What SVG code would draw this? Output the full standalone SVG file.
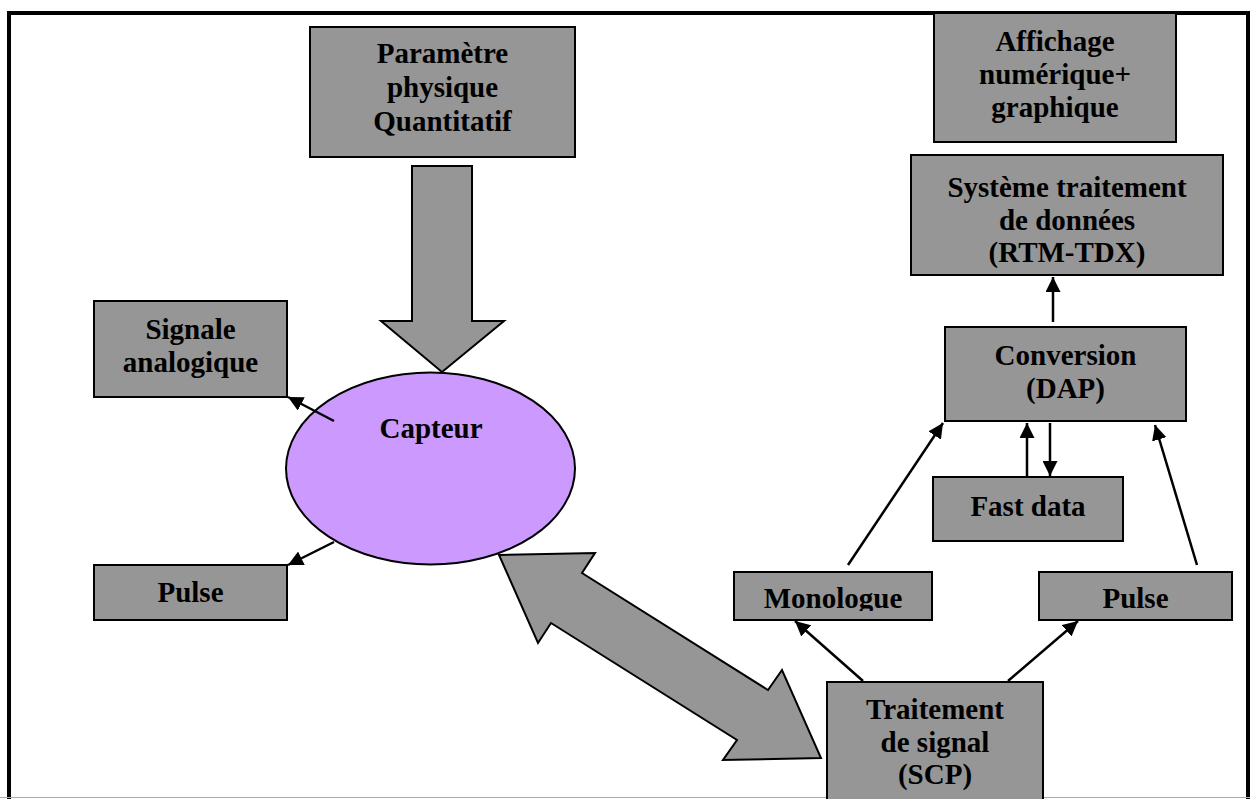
<svg xmlns="http://www.w3.org/2000/svg" width="1250" height="799" viewBox="0 0 1250 799">
<style>
.box{fill:#969696;stroke:#000;stroke-width:2}
.t{font-family:"Liberation Serif","Times New Roman",serif;font-weight:bold;font-size:29px;fill:#000;text-anchor:middle}
.c{stroke:#000;stroke-width:2.5;fill:none;marker-end:url(#ah)}
.big{fill:#969696;stroke:#000;stroke-width:2;stroke-linejoin:miter}
</style>
<defs>
<marker id="ah" viewBox="0 0 10 10" refX="10" refY="5" markerWidth="6" markerHeight="6" markerUnits="strokeWidth" orient="auto">
<path d="M0,0 L10,5 L0,10 z" fill="#000"/>
</marker>
<clipPath id="clipMono"><rect x="734" y="572" width="198" height="39"/></clipPath>
<clipPath id="clipPulseR"><rect x="1039" y="572" width="193" height="39"/></clipPath>
</defs>
<rect width="1250" height="799" fill="#fff"/>
<g id="frame">
<path d="M9,799 V13 H1248 V799" fill="none" stroke="#000" stroke-width="4"/>
<line x1="0" y1="797.5" x2="1250" y2="797.5" stroke="#aaa" stroke-width="1"/>
</g>
<g id="node-parametre">
<rect class="box" x="310" y="27" width="265" height="130"/>
<text class="t" x="442.5" y="63">Paramètre</text>
<text class="t" x="442.5" y="97">physique</text>
<text class="t" x="442.5" y="131">Quantitatif</text>
</g>
<g id="node-affichage">
<rect class="box" x="934" y="13" width="242" height="129"/>
<text class="t" x="1055" y="51">Affichage</text>
<text class="t" x="1055" y="84">numérique+</text>
<text class="t" x="1055" y="117">graphique</text>
</g>
<g id="node-systeme">
<rect class="box" x="911" y="155" width="312" height="120"/>
<text class="t" x="1067" y="197">Système traitement</text>
<text class="t" x="1067" y="230">de données</text>
<text class="t" x="1067" y="262">(RTM-TDX)</text>
</g>
<g id="node-signale">
<rect class="box" x="94" y="301" width="193" height="96"/>
<text class="t" x="190.5" y="339">Signale</text>
<text class="t" x="190.5" y="372">analogique</text>
</g>
<g id="node-pulse-left">
<rect class="box" x="94" y="565" width="193" height="55"/>
<text class="t" x="190.5" y="602">Pulse</text>
</g>
<g id="node-capteur">
<ellipse cx="430.5" cy="468.5" rx="144.5" ry="96" fill="#cc99ff" stroke="#000" stroke-width="2"/>
<text class="t" x="431" y="438">Capteur</text>
</g>
<g id="node-conversion">
<rect class="box" x="945" y="327" width="241" height="94"/>
<text class="t" x="1065.5" y="365">Conversion</text>
<text class="t" x="1065.5" y="398">(DAP)</text>
</g>
<g id="node-fastdata">
<rect class="box" x="933" y="477" width="190" height="64"/>
<text class="t" x="1028" y="516">Fast data</text>
</g>
<g id="node-monologue">
<rect class="box" x="734" y="572" width="198" height="48"/>
<text class="t" x="833" y="608" clip-path="url(#clipMono)">Monologue</text>
</g>
<g id="node-pulse-right">
<rect class="box" x="1039" y="572" width="193" height="48"/>
<text class="t" x="1135.5" y="608" clip-path="url(#clipPulseR)">Pulse</text>
</g>
<g id="node-traitement">
<rect class="box" x="827" y="682" width="216" height="120"/>
<text class="t" x="935" y="719">Traitement</text>
<text class="t" x="935" y="752">de signal</text>
<text class="t" x="935" y="784">(SCP)</text>
</g>
<g id="connectors">
<polygon class="big" points="412,166 472,166 472,321 504,321 442,372 381,321 412,321"/>
<polygon class="big" points="499,555 595,553 582,573 768,690 782,670 821,758 723,760 737,740 551,623 538,643"/>
<line class="c" x1="1053" y1="322" x2="1053" y2="277"/>
<line class="c" x1="1027" y1="477" x2="1027" y2="423"/>
<line class="c" x1="1050" y1="423" x2="1050" y2="476"/>
<line class="c" x1="848" y1="565" x2="943" y2="423"/>
<line class="c" x1="1197" y1="565" x2="1155" y2="425"/>
<line class="c" x1="863" y1="681" x2="795" y2="621"/>
<line class="c" x1="1008" y1="681" x2="1078" y2="621"/>
<line class="c" x1="334" y1="421" x2="288" y2="397"/>
<line class="c" x1="334" y1="542" x2="288" y2="565"/>
</g>
</svg>
